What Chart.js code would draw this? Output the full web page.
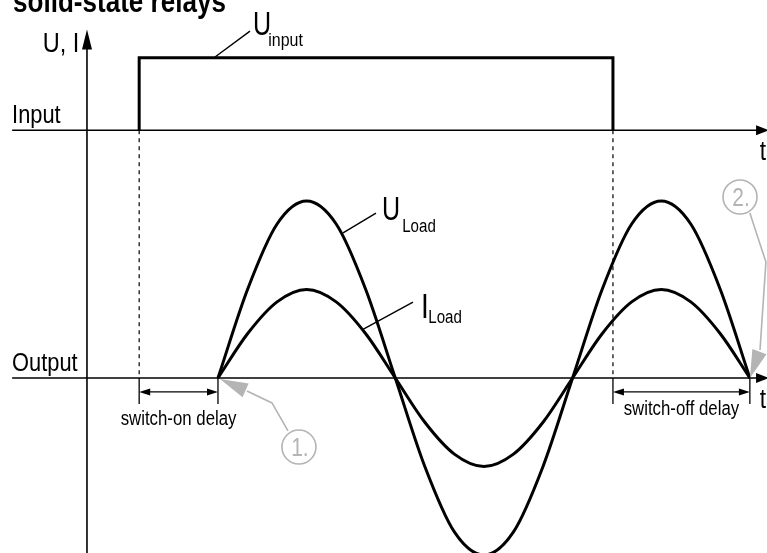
<!DOCTYPE html>
<html>
<head>
<meta charset="utf-8">
<script src="https://cdn.jsdelivr.net/npm/chart.js@4/dist/chart.umd.min.js"></script>
<style>
  html, body { margin: 0; padding: 0; background: #fff; }
  canvas { display: block; }
</style>
</head>
<body>
<canvas id="relayChart" width="767" height="553"></canvas>
<script>
// x = phase of the load voltage in degrees, y = amplitude (U peak = 1)
const phase = [0, 30, 60, 90, 120, 150, 180, 210, 240, 270, 300, 330, 360, 390, 420, 450, 480, 510, 540];
const uLoad = [0, 0.5, 0.87, 1, 0.87, 0.5, 0, -0.5, -0.87, -1, -0.87, -0.5, 0, 0.5, 0.87, 1, 0.87, 0.5, 0];
const iLoad = [0, 0.25, 0.43, 0.5, 0.43, 0.25, 0, -0.25, -0.43, -0.5, -0.43, -0.25, 0, 0.25, 0.43, 0.5, 0.43, 0.25, 0];

// control signal: switched on at -80 deg, off at 401 deg
const inputPhase = [-80, -80, 401, 401];
const inputLevel = [1.40, 1.81, 1.81, 1.40];

const inputBase = 1.40;
const outputBase = 0;
const switchOn = -80;
const switchOff = 401;
const loadStart = 0;
const loadEnd = 540;

// no narrow font installed, so Liberation Sans gets squeezed sideways
const FONT = '"Liberation Sans", Arial, sans-serif';
const NARROW = 0.84;
const GREY = '#b4b4b4';

const pts = (xs, ys) => xs.map((x, i) => ({ x: x, y: ys[i] }));

const lineSet = (data, width, extra) => Object.assign({
    data: data,
    showLine: true,
    borderColor: '#000',
    borderWidth: width,
    pointRadius: 0,
    fill: false,
    tension: 0
}, extra || {});

const labels = [
    { text: 'solid-state relays', x: -208, y: 2.068, size: 31, bold: true },
    { text: 'U, I', x: -178, y: 1.842, size: 28 },
    { text: 'Input', x: -209, y: 1.441, size: 26 },
    { text: 'Output', x: -209, y: 0.037, size: 26 },
    { text: 't', x: 550, y: 1.232, size: 27 },
    { text: 't', x: 550, y: -0.169, size: 27 },
    { text: 'U', x: 35.5, y: 1.938, size: 33, sx: 0.76 },
    { text: 'input', x: 51, y: 1.876, size: 19 },
    { text: 'U', x: 166.5, y: 0.893, size: 33, sx: 0.76 },
    { text: 'Load', x: 187, y: 0.825, size: 18 },
    { text: 'I', x: 206, y: 0.339, size: 35, sx: 0.8 },
    { text: 'Load', x: 213.5, y: 0.311, size: 18 },
    { text: 'switch-on delay', x: (switchOn + loadStart) / 2, y: -0.265, size: 20, align: 'center' },
    { text: 'switch-off delay', x: (switchOff + loadEnd) / 2, y: -0.21, size: 20, align: 'center' }
];

// leader lines from the label to its curve
const leaders = [
    [[-3, 1.814], [32.5, 1.96]],
    [[127, 0.82], [160.4, 0.932]],
    [[147.2, 0.275], [198, 0.429]]
];

// grey numbered callouts
const callouts = [
    { text: '1.', cx: 82.2, cy: -0.39, path: [[71.1, -0.299], [54.8, -0.141], [29.4, -0.073], [2, -0.006]] },
    { text: '2.', cx: 530, cy: 1.023, path: [[540, 0.932], [556.3, 0.655], [550.3, 0.158], [540.1, 0]] }
];

const drawing = {
    id: 'relayDrawing',
    afterDatasetsDraw(chart) {
        const c = chart.ctx;
        const X = v => chart.scales.x.getPixelForValue(v);
        const Y = v => chart.scales.y.getPixelForValue(v);

        const line = (x1, y1, x2, y2, w, col) => {
            c.beginPath();
            c.moveTo(x1, y1);
            c.lineTo(x2, y2);
            c.lineWidth = w;
            c.strokeStyle = col;
            c.stroke();
        };
        const arrow = (tx, ty, fx, fy, len, half, col) => {
            const dx = tx - fx, dy = ty - fy;
            const d = Math.sqrt(dx * dx + dy * dy);
            const ux = dx / d, uy = dy / d;
            const bx = tx - ux * len, by = ty - uy * len;
            c.beginPath();
            c.moveTo(tx, ty);
            c.lineTo(bx - uy * half, by + ux * half);
            c.lineTo(bx + uy * half, by - ux * half);
            c.closePath();
            c.fillStyle = col;
            c.fill();
        };
        const text = (str, x, y, font, sx, align, col) => {
            c.save();
            c.translate(x, y);
            c.scale(sx, 1);
            c.font = font;
            c.textAlign = align;
            c.textBaseline = 'alphabetic';
            c.fillStyle = col;
            c.fillText(str, 0, 0);
            c.restore();
        };

        c.save();

        // axis arrow heads
        arrow(X(559.5), Y(inputBase), X(500), Y(inputBase), 13, 5, '#000');
        arrow(X(559.5), Y(outputBase), X(500), Y(outputBase), 13, 5, '#000');
        arrow(X(-133), Y(1.97), X(-133), Y(1.5), 20, 5, '#000');

        // dimension lines for the delays
        [[switchOn, loadStart, -0.079], [switchOff, loadEnd, -0.079]].forEach(d => {
            const x1 = X(d[0]), x2 = X(d[1]), y = Y(d[2]);
            line(x1, Y(0), x1, Y(-0.147), 1.3, '#000');
            line(x2, Y(0), x2, Y(-0.147), 1.3, '#000');
            line(x1 + 4, y, x2 - 4, y, 1.3, '#000');
            arrow(x1, y, x2, y, 11, 3.5, '#000');
            arrow(x2, y, x1, y, 11, 3.5, '#000');
        });

        // label leaders
        leaders.forEach(l => line(X(l[0][0]), Y(l[0][1]), X(l[1][0]), Y(l[1][1]), 1.4, '#000'));

        // grey callouts
        callouts.forEach(o => {
            c.beginPath();
            c.arc(X(o.cx), Y(o.cy), 17, 0, Math.PI * 2);
            c.lineWidth = 1.6;
            c.strokeStyle = GREY;
            c.stroke();
            text(o.text, X(o.cx) + 1, Y(o.cy) + 9, '25px ' + FONT, NARROW, 'center', GREY);

            const p = o.path;
            c.beginPath();
            c.moveTo(X(p[0][0]), Y(p[0][1]));
            for (let i = 1; i < p.length - 1; i++) c.lineTo(X(p[i][0]), Y(p[i][1]));
            c.lineWidth = 1.6;
            c.strokeStyle = GREY;
            c.stroke();
            const a = p[p.length - 2], b = p[p.length - 1];
            arrow(X(b[0]), Y(b[1]), X(a[0]), Y(a[1]), 28, 7.5, GREY);
        });

        // text
        labels.forEach(l => {
            const font = (l.bold ? 'bold ' : '') + l.size + 'px ' + FONT;
            text(l.text, X(l.x), Y(l.y), font, l.sx || NARROW, l.align || 'left', '#000');
        });

        c.restore();
    }
};

new Chart(document.getElementById('relayChart').getContext('2d'), {
    type: 'scatter',
    data: {
        datasets: [
            lineSet(pts([-209, 548], [inputBase, inputBase]), 1.6),
            lineSet(pts([-209, 548], [outputBase, outputBase]), 1.6),
            lineSet(pts([-133, -133], [-1.1, 1.86]), 1.6),
            lineSet(pts([switchOn, switchOn], [inputBase, outputBase]), 1.2, { borderDash: [4, 4] }),
            lineSet(pts([switchOff, switchOff], [inputBase, outputBase]), 1.2, { borderDash: [4, 4] }),
            lineSet(pts(inputPhase, inputLevel), 3, { borderJoinStyle: 'miter' }),
            lineSet(pts(phase, uLoad), 3, { cubicInterpolationMode: 'monotone' }),
            lineSet(pts(phase, iLoad), 3, { cubicInterpolationMode: 'monotone' })
        ]
    },
    options: {
        responsive: false,
        animation: false,
        layout: { padding: 0 },
        plugins: {
            legend: { display: false },
            tooltip: { enabled: false }
        },
        scales: {
            x: { type: 'linear', display: false, min: -221.3, max: 557.4 },
            y: { type: 'linear', display: false, min: -0.989, max: 2.136 }
        }
    },
    plugins: [drawing]
});
</script>
</body>
</html>
